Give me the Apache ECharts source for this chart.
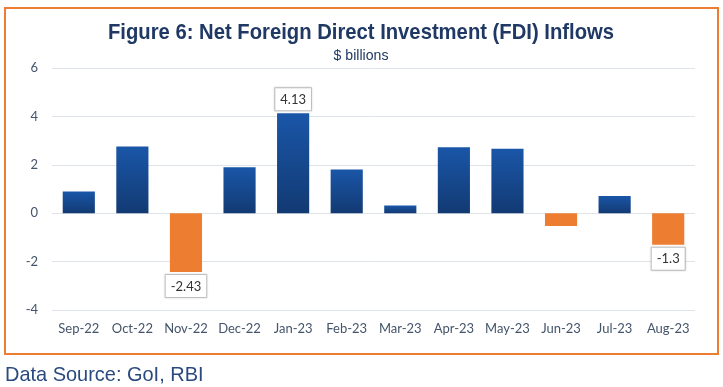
<!DOCTYPE html>
<html><head><meta charset="utf-8">
<script src="https://cdn.jsdelivr.net/npm/echarts@6/dist/echarts.min.js"></script>
<style>html,body{margin:0;padding:0;background:#fff;}#c{width:723px;height:387px;}</style>
</head><body><div id="c"></div>
<script>
const categories = ['Sep-22','Oct-22','Nov-22','Dec-22','Jan-23','Feb-23','Mar-23','Apr-23','May-23','Jun-23','Jul-23','Aug-23'];
const values = [0.9, 2.76, -2.43, 1.9, 4.13, 1.81, 0.32, 2.73, 2.66, -0.53, 0.71, -1.3];
const labelled = ['Nov-22','Jan-23','Aug-23'];
const yTicks = [-4, -2, 0, 2, 4, 6];

const blueGrad = new echarts.graphic.LinearGradient(0,0,0,1,[{offset:0,color:'#1a56a8'},{offset:1,color:'#123a73'}]);
const data = values.map((v,i)=>{
  const d = {value:v, itemStyle:{color: v>=0 ? blueGrad : '#ed7d31'}};
  if (labelled.includes(categories[i])) {
    d.label = {show:true, position: v>=0 ? 'top' : 'bottom', distance: 3,
      formatter: String(v),
      backgroundColor:'#fff', borderColor:'#c8c8c8', borderWidth:1,
      padding:[5,5,4,5], color:'#333', fontFamily:'Lato', fontSize:13,
      shadowColor:'rgba(0,0,0,0.15)', shadowBlur:2};
  }
  return d;
});
const chart = echarts.init(document.getElementById('c'));
chart.setOption({
  animation:false,
  grid:{left:52, right:28, top:68, bottom:77, outerBoundsMode:'none'},
  xAxis:{type:'category', data:categories, axisTick:{show:false}, axisLine:{show:false, onZero:false},
    axisLabel:{fontFamily:'Lato', fontSize:13, color:'#44546a', margin:12, interval:0}},
  yAxis:{type:'value', min:-4, max:6, interval:2,
    axisLabel:{fontFamily:'Lato', fontSize:13, color:'#44546a', margin:14, formatter:v=>yTicks.includes(v)?String(v):''},
    splitLine:{lineStyle:{color:'#dfe3ea', width:1}}},
  series:[{type:'bar', data:data, barWidth:'60%'}],
  graphic:[
    {type:'rect', shape:{x:5,y:8,width:713,height:346}, style:{fill:'none', stroke:'#ed7d31', lineWidth:2}, z:-1},
    {type:'text', x:361, y:33, scaleX:0.92, style:{text:'Figure 6: Net Foreign Direct Investment (FDI) Inflows', fontFamily:'Liberation Sans', fontWeight:'bold', fontSize:22, fill:'#1f3864', align:'center', verticalAlign:'middle'}},
    {type:'text', x:361, y:56, scaleX:0.94, style:{text:'$ billions', fontFamily:'Liberation Sans', fontSize:15, fill:'#1f3864', align:'center', verticalAlign:'middle'}},
    {type:'text', x:5, y:375, scaleX:0.95, style:{text:'Data Source: GoI, RBI', fontFamily:'Liberation Sans', fontSize:21, fill:'#2a4a7f', verticalAlign:'middle'}}
  ]
});
</script></body></html>
